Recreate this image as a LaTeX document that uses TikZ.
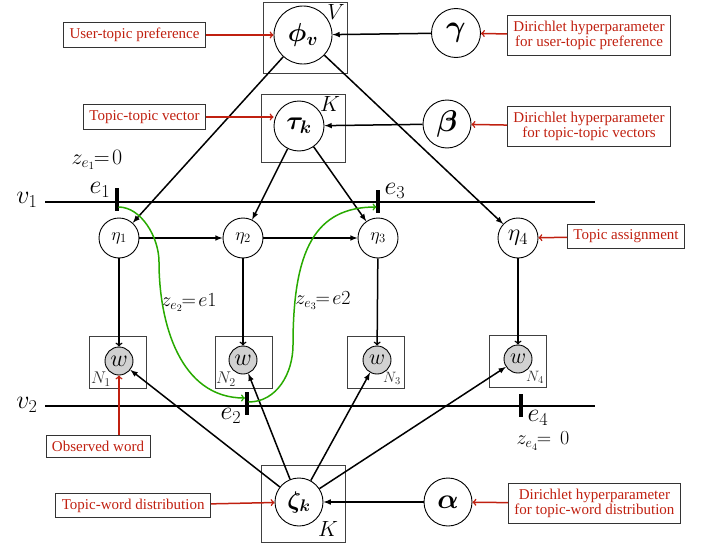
\RequirePackage{fix-cm}
\documentclass[tikz,border=0pt]{standalone}
\usepackage{amsmath}
\usepackage{amssymb}
\usepackage{fontspec}
\usepackage{tikz}
\usetikzlibrary{arrows,shapes,positioning}
\newfontfamily\notefont{Liberation Serif}
\definecolor{notered}{RGB}{192,32,16}
\definecolor{pathgreen}{RGB}{40,170,0}
\newcommand{\thinw}{0.9pt}
\newcommand{\thickw}{1.5pt}
\newcommand{\fs}[1]{\fontsize{#1}{#1}\selectfont}

\begin{document}
\begin{tikzpicture}[x=1pt,y=-1pt]
    \tikzset{
        var/.style = {circle, draw, line width=\thinw, inner sep=0pt},
        obsvar/.style = {var, fill=black!18},
        plate/.style = {draw, black!75, line width=\thinw, inner sep=0pt},
        note/.style = {draw, black!80, line width=\thinw, text=notered, align=center,
            font=\notefont\fontsize{15}{15}\selectfont, inner xsep=6pt, inner ysep=5.5pt},
        evmark/.style = {fill=black, inner sep=0pt, minimum width=3.2pt, minimum height=23pt},
        depline/.style = {-latex, line width=\thickw},
        emitline/.style = {->, line width=\thickw},
        noteline/.style = {->, notered, line width=\thickw},
        jumpline/.style = {->, pathgreen, line width=\thickw},
    }
    \useasboundingbox (0,0) rectangle (702,546);

    \node[plate, minimum width=84pt, minimum height=71pt] (plV) at (305,37.5) {};
    \node[plate, minimum width=84pt, minimum height=68pt] (plK1) at (303,128) {};
    \node[plate, minimum width=84pt, minimum height=77pt] (plK2) at (303,503.5) {};
    \node[font=\fs{22}] (labV) at (336,12) {$V$};
    \node[font=\fs{22}] (labK1) at (330,104) {$K$};
    \node[font=\fs{22}] (labK2) at (328,529) {$K$};

    \node[var, minimum size=58pt, font=\fs{26}] (phi) at (303,35) {$\boldsymbol{\phi_v}$};
    \node[var, minimum size=50pt, font=\fs{26}] (tau) at (299,126) {$\boldsymbol{\tau_k}$};
    \node[var, minimum size=48pt, font=\fs{24}] (zeta) at (299,502) {$\boldsymbol{\zeta_k}$};
    \node[var, minimum size=49pt, font=\fs{30}] (gamma) at (456,33) {$\boldsymbol{\gamma}$};
    \node[var, minimum size=48pt, font=\fs{30}] (beta) at (447,124) {$\boldsymbol{\beta}$};
    \node[var, minimum size=48pt, font=\fs{28}] (alpha) at (448,502) {$\boldsymbol{\alpha}$};

    \node[var, minimum size=40pt, font=\fs{18}] (eta1) at (119,238) {$\eta_1$};
    \node[var, minimum size=40pt, font=\fs{18}] (eta2) at (243,238) {$\eta_2$};
    \node[var, minimum size=40pt, font=\fs{18}] (eta3) at (378,238) {$\eta_3$};
    \node[var, minimum size=40pt, font=\fs{24}] (eta4) at (518,238) {$\eta_4$};

    \node[plate, minimum width=57pt, minimum height=52pt] (plN1) at (117.5,362) {};
    \node[plate, minimum width=57pt, minimum height=52pt] (plN2) at (243.5,362) {};
    \node[plate, minimum width=57pt, minimum height=52pt] (plN3) at (376,362) {};
    \node[plate, minimum width=57pt, minimum height=52pt] (plN4) at (518,361.5) {};
    \node[obsvar, minimum size=28pt, font=\fs{24}] (w1) at (119,361) {$w$};
    \node[obsvar, minimum size=28pt, font=\fs{24}] (w2) at (243,360) {$w$};
    \node[obsvar, minimum size=28pt, font=\fs{22}] (w3) at (377,360) {$w$};
    \node[obsvar, minimum size=28pt, font=\fs{22}] (w4) at (518,359) {$w$};
    \node[font=\fs{17}, text=black!80] (labN1) at (101,379) {$N_1$};
    \node[font=\fs{17}, text=black!80] (labN2) at (226,379) {$N_2$};
    \node[font=\fs{15}, text=black!80] (labN3) at (392,378) {$N_3$};
    \node[font=\fs{15}, text=black!80] (labN4) at (535,377) {$N_4$};

    \coordinate (v1s) at (45,202);
    \coordinate (v1e) at (595,202);
    \coordinate (v2s) at (45,406);
    \coordinate (v2e) at (595,406);
    \draw[line width=\thickw] (v1s) -- (v1e);
    \draw[line width=\thickw] (v2s) -- (v2e);
    \node[font=\fs{26}] (labv1) at (27,200) {$v_1$};
    \node[font=\fs{26}] (labv2) at (27,405) {$v_2$};

    \node[evmark] (ev1) at (117,199.5) {};
    \node[evmark] (ev2) at (247,403) {};
    \node[evmark] (ev3) at (378,201.5) {};
    \node[evmark] (ev4) at (521,405.5) {};
    \node[font=\fs{26}] (labe1) at (100,190) {$e_1$};
    \node[font=\fs{26}] (labe2) at (231,416) {$e_2$};
    \node[font=\fs{26}] (labe3) at (395,191) {$e_3$};
    \node[font=\fs{26}] (labe4) at (538,418) {$e_4$};
    \node[font=\fs{22}] (ze1) at (97,160) {$z_{e_1}\!\!=\!0$};
    \node[font=\fs{20}] (ze4) at (543,441) {$z_{e_4}\!\!=\,0$};
    \node[font=\fs{20}] (ze2) at (189,303) {$z_{e_2}\!\!=\!e1$};
    \node[font=\fs{20}] (ze3) at (323,301) {$z_{e_3}\!\!=\!e2$};

    \draw[depline] (gamma) -- (phi);
    \draw[depline] (beta) -- (tau);
    \draw[depline] (alpha) -- (zeta);
    \draw[depline] (phi) -- (eta1);
    \draw[depline] (phi) -- (eta4);
    \draw[depline] (tau) -- (eta2);
    \draw[depline] (tau) -- (eta3);
    \draw[depline] (eta1) -- (eta2);
    \draw[depline] (eta2) -- (eta3);
    \draw[emitline] (eta1) -- (w1);
    \draw[emitline] (eta2) -- (w2);
    \draw[emitline] (eta3) -- (w3);
    \draw[emitline] (eta4) -- (w4);
    \draw[depline] (zeta) -- (w1);
    \draw[depline] (zeta) -- (w2);
    \draw[depline] (zeta) -- (w3);
    \draw[depline] (zeta) -- (w4);

    \coordinate (ga) at (118.5,207);
    \coordinate (gm) at (159,262);
    \coordinate (gb) at (245,398);
    \coordinate (gc) at (248.5,402);
    \coordinate (gn) at (293,345);
    \coordinate (gd) at (376.5,207);
    \draw[jumpline] (ga) .. controls (141,207) and (159,237) .. (gm)
        .. controls (159,323) and (180,398) .. (gb);
    \draw[jumpline] (gc) .. controls (277,402) and (293,373) .. (gn)
        .. controls (293,250) and (315,207) .. (gd);

    \node[note, anchor=east] (upref) at (206,35) {User-topic preference};
    \node[note, anchor=east] (ttvec) at (206,117) {Topic-topic vector};
    \node[note, anchor=west] (dirg) at (507,35.5) {Dirichlet hyperparameter\\for user-topic preference};
    \node[note, anchor=west] (dirb) at (507,126.5) {Dirichlet hyperparameter\\for topic-topic vectors};
    \node[note, anchor=west] (tassign) at (567,236.5) {Topic assignment};
    \node[note] (obsw) at (98,446.5) {Observed word};
    \node[note, anchor=east] (twdist) at (211,505.5) {Topic-word distribution};
    \node[note, anchor=west] (dira) at (508,503.5) {Dirichlet hyperparameter\\for topic-word distribution};

    \draw[noteline] (upref) -- (phi);
    \draw[noteline] (ttvec.east) -- (ttvec.east -| tau.west);
    \draw[noteline] (dirg) -- (gamma);
    \draw[noteline] (dirb) -- (beta);
    \draw[noteline] (tassign) -- (eta4);
    \draw[noteline] (obsw.north -| w1) -- (w1);
    \draw[noteline] (twdist) -- (zeta);
    \draw[noteline] (dira) -- (alpha);
\end{tikzpicture}
\end{document}
